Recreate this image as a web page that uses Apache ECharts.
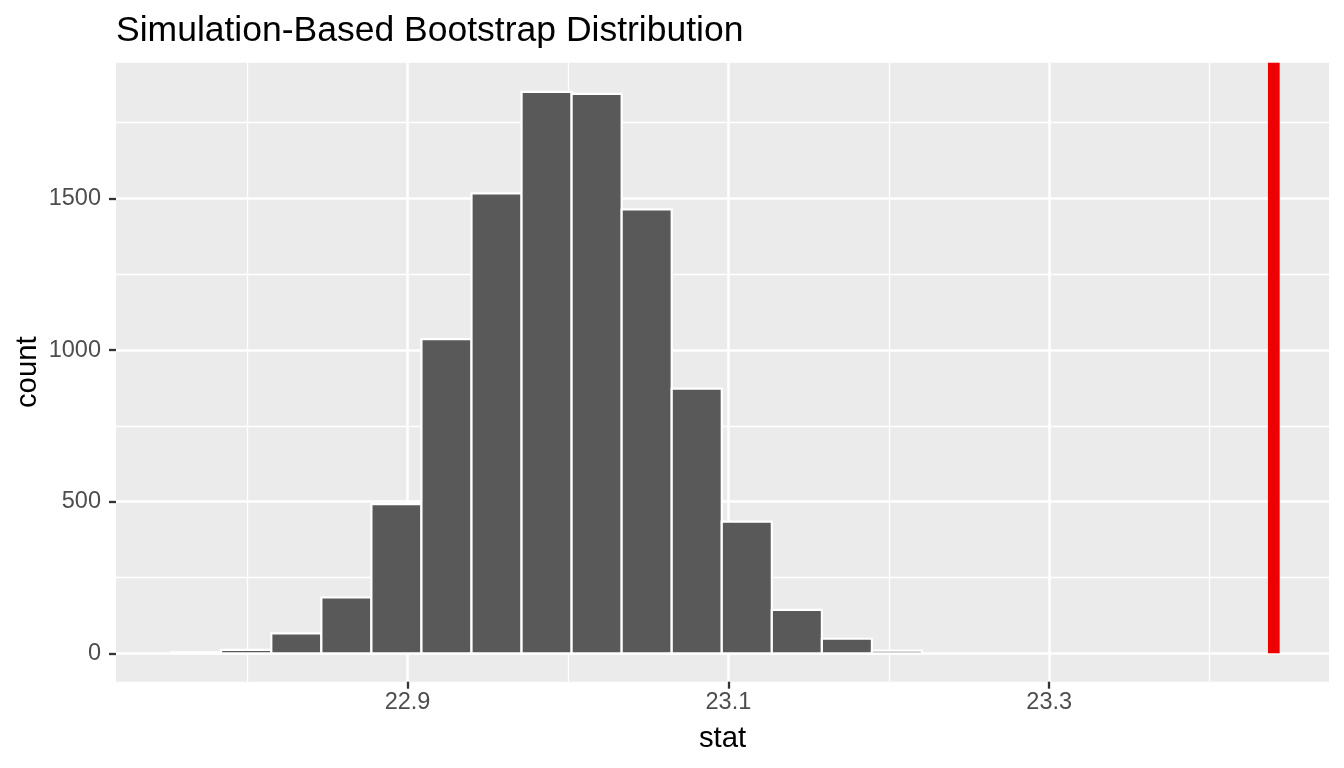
<!DOCTYPE html>
<html><head><meta charset="utf-8">
<script src="https://cdn.jsdelivr.net/npm/echarts@6/dist/echarts.min.js"></script>
<style>html,body{margin:0;padding:0;background:#fff}#c{width:1344px;height:768px}</style>
</head><body><div id="c"></div>
<script>
// Histogram bin edges (stat) and counts
const binEdges = [22.7527, 22.7838, 22.8151, 22.8463, 22.8775, 22.9087, 22.9399, 22.9711,
                  23.0023, 23.0335, 23.0647, 23.0959, 23.1271, 23.1583, 23.1895, 23.2207];
const counts = [3, 11, 66, 184, 492, 1036, 1517, 1852, 1845, 1464, 873, 434, 143, 48, 9];
const observedStat = 23.44;

const xMajorTicks = [22.9, 23.1, 23.3];
const xMinorTicks = [22.8, 23.0, 23.2, 23.4];
const yMajorTicks = [0, 500, 1000, 1500];
const yMinorTicks = [250, 750, 1250, 1750];
const xRange = [22.7183, 23.4744];
const yRange = [-93.7, 1948];

const titleText = 'Simulation-Based Bootstrap Distribution';
const xName = 'stat';
const yName = 'count';

const histData = counts.map((c, i) => [binEdges[i], binEdges[i + 1], c]);

const FONT = '"Liberation Sans", Arial, sans-serif';
const chart = echarts.init(document.getElementById('c'), null, {renderer: 'canvas'});

const major = {show: true, lineStyle: {color: '#FFFFFF', width: 2.5}};
const minor = {show: true, lineStyle: {color: '#FFFFFF', width: 1.3}};

chart.setOption({
  animation: false,
  backgroundColor: '#FFFFFF',
  title: {
    text: titleText, left: 116, top: 13, padding: 0,
    textStyle: {fontFamily: FONT, fontSize: 35.5, fontWeight: 'normal', color: '#000000'}
  },
  grid: {left: 116, right: 15, top: 62.7, bottom: 86.3, show: true,
         backgroundColor: '#EBEBEB', borderWidth: 0, containLabel: false,
         outerBoundsMode: 'none'},
  xAxis: [{
    type: 'value', min: xRange[0], max: xRange[1], position: 'bottom',
    axisLine: {show: false, onZero: false},
    axisTick: {show: true, length: 7, customValues: xMajorTicks, lineStyle: {color: '#333333', width: 2.3}},
    axisLabel: {show: true, customValues: xMajorTicks, margin: 9, color: '#4D4D4D',
                fontFamily: FONT, fontSize: 23.5, formatter: v => v.toFixed(1)},
    splitLine: major,
    name: xName, nameLocation: 'middle', nameGap: 43,
    nameTextStyle: {fontFamily: FONT, fontSize: 29.3, color: '#000000'}
  }, {
    type: 'value', min: xRange[0], max: xRange[1], position: 'top',
    axisLine: {show: false, onZero: false},
    axisTick: {show: false, customValues: xMinorTicks},
    axisLabel: {show: false, customValues: xMinorTicks},
    splitLine: minor
  }],
  yAxis: [{
    type: 'value', min: yRange[0], max: yRange[1], position: 'left',
    axisLine: {show: false, onZero: false},
    axisTick: {show: true, length: 7, customValues: yMajorTicks, lineStyle: {color: '#333333', width: 2.3}},
    axisLabel: {show: true, customValues: yMajorTicks, margin: 15, color: '#4D4D4D',
                fontFamily: FONT, fontSize: 23.5, formatter: v => String(v)},
    splitLine: major,
    name: yName, nameLocation: 'middle', nameGap: 74, nameRotate: 90, nameMoveOverlap: false,
    nameTextStyle: {fontFamily: FONT, fontSize: 29.3, color: '#000000'}
  }, {
    type: 'value', min: yRange[0], max: yRange[1], position: 'right',
    axisLine: {show: false, onZero: false},
    axisTick: {show: false, customValues: yMinorTicks},
    axisLabel: {show: false, customValues: yMinorTicks},
    splitLine: minor
  }],
  series: [{
    type: 'custom', xAxisIndex: 0, yAxisIndex: 0,
    data: histData,
    renderItem: function (params, api) {
      const p0 = api.coord([api.value(0), api.value(2)]);
      const p1 = api.coord([api.value(1), 0]);
      return {
        type: 'rect',
        shape: {x: p0[0], y: p0[1], width: p1[0] - p0[0], height: p1[1] - p0[1]},
        style: {fill: '#595959', stroke: '#FFFFFF', lineWidth: 2.2}
      };
    }
  }, {
    type: 'custom', xAxisIndex: 0, yAxisIndex: 0,
    data: [[observedStat]],
    renderItem: function (params, api) {
      const pb = api.coord([api.value(0), 0]);
      const pt = api.coord([api.value(0), yRange[1]]);
      const w = 11.7;
      return {
        type: 'rect',
        shape: {x: pb[0] - w / 2, y: pt[1], width: w, height: pb[1] - pt[1]},
        style: {fill: '#EE0000'}
      };
    }
  }]
});
</script>
</body></html>
